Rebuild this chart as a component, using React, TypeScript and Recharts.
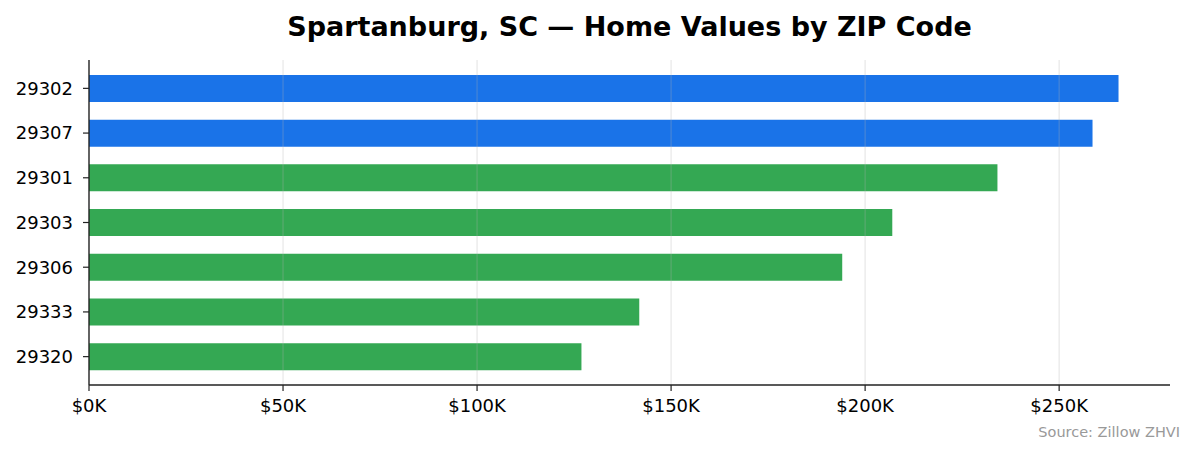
import React from 'react';
import { BarChart, Bar, XAxis, YAxis, Cell, ReferenceLine } from 'recharts';

const zips = ['29302', '29307', '29301', '29303', '29306', '29333', '29320'];
const values = [265300, 258600, 234100, 207000, 194100, 141800, 126900];
const barColors = ['#1a73e8', '#1a73e8', '#34a853', '#34a853', '#34a853', '#34a853', '#34a853'];
const xTicks = [0, 50000, 100000, 150000, 200000, 250000];
const title = 'Spartanburg, SC — Home Values by ZIP Code';
const source = 'Source: Zillow ZHVI';

const data = zips.map((zip, i) => ({ zip, value: values[i], color: barColors[i] }));
const maxVal = Math.max(...values) * 1.05;

const FONT = '"DejaVu Sans", sans-serif';
const AXIS = '#222222';

export default function App() {
  return (
    <div style={{ position: 'absolute', left: 0, top: 0, width: 1195, height: 455, background: '#fff', fontFamily: FONT }}>
      <div
        style={{
          position: 'absolute',
          left: 89,
          width: 1081,
          top: 9,
          textAlign: 'center',
          fontWeight: 'bold',
          fontSize: 27,
          lineHeight: '36px',
          color: '#000',
        }}
      >
        {title}
      </div>
      <BarChart
        width={1195}
        height={455}
        data={data}
        layout="vertical"
        margin={{ top: 60, right: 25, bottom: 0, left: 0 }}
        barCategoryGap="20%"
      >
        <XAxis
          type="number"
          dataKey="value"
          domain={[0, maxVal]}
          ticks={xTicks}
          allowDataOverflow
          tickFormatter={(v: number) => `$${Math.round(v / 1000)}K`}
          tick={{ fill: '#000', fontSize: 18, fontFamily: FONT }}
          axisLine={{ stroke: AXIS, strokeWidth: 1.4 }}
          tickLine={{ stroke: AXIS, strokeWidth: 1.2 }}
          tickSize={6}
          tickMargin={8}
          height={70}
        />
        <YAxis
          type="category"
          dataKey="zip"
          width={89}
          padding={{ top: 6, bottom: 6 }}
          tick={{ fill: '#000', fontSize: 18, fontFamily: FONT }}
          axisLine={{ stroke: AXIS, strokeWidth: 1.4 }}
          tickLine={{ stroke: AXIS, strokeWidth: 1.2 }}
          tickSize={6}
          tickMargin={10}
        />
        <Bar dataKey="value" isAnimationActive={false}>
          {data.map((d) => (
            <Cell key={d.zip} fill={d.color} />
          ))}
        </Bar>
        {xTicks.slice(1).map((t) => (
          <ReferenceLine key={t} x={t} stroke="#b0b0b0" strokeOpacity={0.3} strokeWidth={1.2} />
        ))}
      </BarChart>
      <div
        style={{
          position: 'absolute',
          right: 15,
          top: 423,
          fontSize: 14.5,
          color: '#999999',
          lineHeight: '18px',
        }}
      >
        {source}
      </div>
    </div>
  );
}
